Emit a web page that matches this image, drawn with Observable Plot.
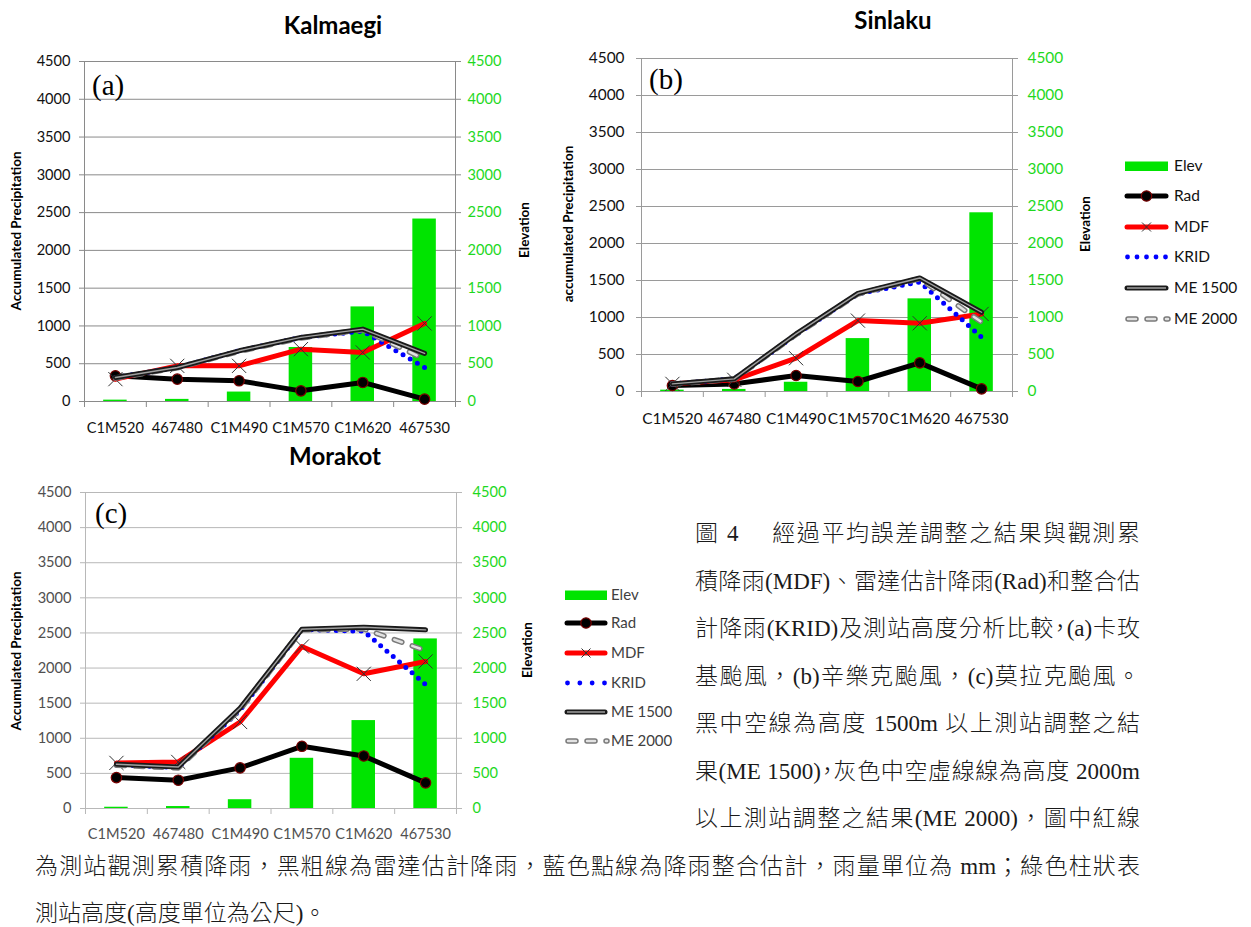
<!DOCTYPE html>
<html lang="zh-Hant">
<head>
<meta charset="utf-8">
<script src="https://cdn.jsdelivr.net/npm/d3@7"></script>
<script src="https://cdn.jsdelivr.net/npm/@observablehq/plot@0.6"></script>
<style>
  html, body { margin: 0; padding: 0; background: #fff; }
  #page { position: relative; width: 1251px; height: 927px; overflow: hidden; background: #fff; font-family: Lato, "Open Sans", sans-serif; }
  .ttl { position: absolute; transform: translate(-50%, -50%); font: bold 24px Lato, sans-serif; line-height: 1; white-space: nowrap; color: #000; }
  .vt { position: absolute; transform: translate(-50%, -50%) rotate(-90deg); font: bold 13.5px Lato, sans-serif; line-height: 1; white-space: nowrap; color: #000; }
  .tag { position: absolute; font: 29px "Liberation Serif", serif; line-height: 1; transform: translateY(-50%); color: #000; }
  .cap { position: absolute; font-family: "Liberation Serif", "Noto Sans CJK TC", serif; font-weight: 300; font-size: 23px; line-height: 1; white-space: nowrap; text-align: justify; text-align-last: justify; color: #1a1a1a; transform: translateY(-50%); }
  .halt { font-feature-settings: "halt"; }
</style>
</head>
<body>
<div id="page"></div>
<script>
// ---------------- data ----------------
const stations = ["C1M520", "467480", "C1M490", "C1M570", "C1M620", "467530"];
const elevation = [18, 28, 125, 715, 1252, 2415];
const yTicks = [0, 500, 1000, 1500, 2000, 2500, 3000, 3500, 4000, 4500];

// (a) Kalmaegi
const kalRad    = [340, 296, 274, 141, 252, 31];
const kalMDF    = [296, 472, 472, 693, 649, 1033];
const kalKRID   = [318, 450, 671, 848, 930, 450];
const kalME1500 = [318, 450, 671, 848, 958, 636];
const kalME2000 = [310, 445, 665, 840, 950, 561];

// (b) Sinlaku
const sinRad    = [81, 103, 216, 135, 387, 36];
const sinMDF    = [103, 158, 450, 958, 922, 1048];
const sinKRID   = [103, 171, 770, 1320, 1480, 734];
const sinME1500 = [103, 171, 778, 1327, 1534, 1071];
const sinME2000 = [100, 168, 770, 1318, 1525, 936];

// (c) Morakot
const morRad    = [440, 403, 578, 886, 748, 365];
const morMDF    = [649, 663, 1232, 2307, 1918, 2094];
const morKRID   = [620, 585, 1400, 2550, 2525, 1767];
const morME1500 = [630, 592, 1430, 2553, 2582, 2544];
const morME2000 = [616, 578, 1410, 2544, 2558, 2250];

const legendNames = ["Elev", "Rad", "MDF", "KRID", "ME 1500", "ME 2000"];

// ---------------- styles ----------------
const GREEN = "#00e400";
const GREEN_TXT = "#1ed81e";

const page = document.getElementById("page");

function rowsOf(rad, mdf, krid, me1500, me2000) {
  return stations.map((s, i) => ({i, s, elev: elevation[i], rad: rad[i], mdf: mdf[i], krid: krid[i], me1500: me1500[i], me2000: me2000[i]}));
}

function makeChart(cfg) {
  const rows = rowsOf(...cfg.series);
  const cx = d => d.i + 0.5;
  const p = Plot.plot({
    width: cfg.width, height: cfg.height,
    marginLeft: cfg.ml, marginRight: cfg.mr, marginTop: cfg.mt, marginBottom: cfg.mb,
    x: {domain: [0, 6], axis: null},
    y: {domain: [0, 4500], axis: null},
    style: {fontFamily: "Lato, sans-serif", fontSize: cfg.fs + "px", background: "transparent", overflow: "visible"},
    marks: [
      Plot.ruleY(yTicks.slice(1), {stroke: cfg.grid, strokeWidth: 1}),
      Plot.axisY({anchor: "left", ticks: yTicks, tickSize: 5, tickPadding: cfg.lpad, tickFormat: d => String(d), stroke: cfg.grid, fill: cfg.txt, fontSize: cfg.fs, label: null}),
      Plot.axisY({anchor: "right", ticks: yTicks, tickSize: 5, tickPadding: cfg.rpad, tickFormat: d => String(d), stroke: cfg.grid, fill: GREEN_TXT, fontSize: cfg.fs, label: null}),
      Plot.ruleX([0, 6], {stroke: cfg.grid, strokeWidth: 1}),
      Plot.ruleY([0], {stroke: cfg.grid, strokeWidth: 1}),
      Plot.axisX({ticks: d3.range(0, 7), tickSize: 6, tickFormat: () => "", stroke: cfg.grid, label: null}),
      Plot.axisX({ticks: d3.range(6).map(i => i + 0.5), tickSize: 0, tickPadding: cfg.xpad, tickFormat: d => stations[Math.floor(d)], fill: cfg.txt, fontSize: cfg.xfs, label: null}),
      Plot.rect(rows, {x1: d => d.i + 0.31, x2: d => d.i + 0.69, y1: d => 0, y2: "elev", fill: GREEN}),
      Plot.line(rows, {x: cx, y: "rad", stroke: "#000", strokeWidth: 5, strokeLinejoin: "round"}),
      Plot.dot(rows, {x: cx, y: "rad", r: 5.2, fill: "#000", stroke: "#7a0000", strokeWidth: 1.2}),
      Plot.line(rows, {x: cx, y: "mdf", stroke: "#ff0000", strokeWidth: 5, strokeLinejoin: "round"}),
      Plot.dot(rows, {x: cx, y: "mdf", symbol: "times", r: 6.5, stroke: "#333", strokeWidth: 1}),
      Plot.line(rows, {x: cx, y: "krid", stroke: "#0000ff", strokeWidth: 5, strokeDasharray: "0 8.3", strokeLinecap: "round"}),
      Plot.line(rows, {x: cx, y: "me2000", stroke: "#7a7a7a", strokeWidth: 5.5, strokeDasharray: "8 11", strokeLinecap: "round"}),
      Plot.line(rows, {x: cx, y: "me2000", stroke: "#e2e2e2", strokeWidth: 2.5, strokeDasharray: "8 11", strokeLinecap: "round"}),
      Plot.line(rows, {x: cx, y: "me1500", stroke: "#1a1a1a", strokeWidth: 5, strokeLinejoin: "round"}),
      Plot.line(rows, {x: cx, y: "me1500", stroke: "#a0a0a0", strokeWidth: 1.4, strokeLinejoin: "round"})
    ]
  });
  p.style.position = "absolute";
  p.style.left = cfg.left + "px";
  p.style.top = cfg.top + "px";
  page.appendChild(p);
}

function addDiv(cls, text, x, y, extra) {
  const d = document.createElement("div");
  d.className = cls;
  d.textContent = text;
  d.style.left = x + "px";
  d.style.top = y + "px";
  if (extra) Object.assign(d.style, extra);
  page.appendChild(d);
  return d;
}

function makeLegend(cfg) {
  const svg = d3.create("svg").attr("width", 140).attr("height", 190)
    .style("position", "absolute").style("left", cfg.left + "px").style("top", cfg.top + "px").style("overflow", "visible");
  const x0 = 0, x1 = cfg.sw;
  const xm = (x0 + x1) / 2;
  legendNames.forEach((name, k) => {
    const y = cfg.ys[k];
    const g = svg.append("g");
    if (name === "Elev") {
      g.append("rect").attr("x", x0).attr("y", y - 4.5).attr("width", cfg.sw).attr("height", 9.5).attr("fill", GREEN);
    } else if (name === "Rad") {
      g.append("line").attr("x1", x0 + 2).attr("x2", x1 - 2).attr("y1", y).attr("y2", y).attr("stroke", "#000").attr("stroke-width", 5).attr("stroke-linecap", "round");
      g.append("circle").attr("cx", xm).attr("cy", y).attr("r", 5.2).attr("fill", "#000").attr("stroke", "#7a0000").attr("stroke-width", 1.2);
    } else if (name === "MDF") {
      g.append("line").attr("x1", x0 + 2).attr("x2", x1 - 2).attr("y1", y).attr("y2", y).attr("stroke", "#ff0000").attr("stroke-width", 5).attr("stroke-linecap", "round");
      g.append("path").attr("d", `M${xm-4.5},${y-4.5}L${xm+4.5},${y+4.5}M${xm-4.5},${y+4.5}L${xm+4.5},${y-4.5}`).attr("stroke", "#333").attr("stroke-width", 1);
    } else if (name === "KRID") {
      const n = cfg.ndots;
      for (let j = 0; j < n; j++) {
        g.append("circle").attr("cx", x0 + 2.5 + j * (cfg.sw - 5) / (n - 1)).attr("cy", y).attr("r", 2.4).attr("fill", "#0000ff");
      }
    } else if (name === "ME 1500") {
      g.append("line").attr("x1", x0 + 2).attr("x2", x1 - 2).attr("y1", y).attr("y2", y).attr("stroke", "#1a1a1a").attr("stroke-width", 5).attr("stroke-linecap", "round");
      g.append("line").attr("x1", x0 + 2).attr("x2", x1 - 2).attr("y1", y).attr("y2", y).attr("stroke", "#a0a0a0").attr("stroke-width", 1.4);
    } else {
      g.append("line").attr("x1", x0 + 3).attr("x2", x1).attr("y1", y).attr("y2", y).attr("stroke", "#7a7a7a").attr("stroke-width", 5.5).attr("stroke-dasharray", "8 11").attr("stroke-linecap", "round");
      g.append("line").attr("x1", x0 + 3).attr("x2", x1).attr("y1", y).attr("y2", y).attr("stroke", "#e2e2e2").attr("stroke-width", 2.5).attr("stroke-dasharray", "8 11").attr("stroke-linecap", "round");
    }
    g.append("text").attr("x", cfg.tx).attr("y", y).attr("dy", "0.35em")
      .attr("font-family", "Lato, sans-serif").attr("font-size", cfg.fs).attr("fill", cfg.color).text(name);
  });
  page.appendChild(svg.node());
}

// ---------------- charts ----------------
makeChart({left: 0, top: 0, width: 560, height: 445, ml: 84, mr: 105, mt: 61, mb: 44,
  fs: 14.6, xfs: 14.6, lpad: 9, rpad: 7, xpad: 21, grid: "#8a8a8a", txt: "#111",
  series: [kalRad, kalMDF, kalKRID, kalME1500, kalME2000]});
makeChart({left: 560, top: 0, width: 520, height: 440, ml: 81, mr: 68, mt: 58, mb: 49,
  fs: 15.4, xfs: 15.4, lpad: 12, rpad: 10, xpad: 21.5, grid: "#9a9a9a", txt: "#111",
  series: [sinRad, sinMDF, sinKRID, sinME1500, sinME2000]});
makeChart({left: 0, top: 440, width: 560, height: 420, ml: 85, mr: 104, mt: 52, mb: 52,
  fs: 14.6, xfs: 14.6, lpad: 9, rpad: 11, xpad: 20, grid: "#b8b8b8", txt: "#505050",
  series: [morRad, morMDF, morKRID, morME1500, morME2000]});

// titles
addDiv("ttl", "Kalmaegi", 333, 25);
addDiv("ttl", "Sinlaku", 893, 20);
addDiv("ttl", "Morakot", 335, 456);

// panel tags
addDiv("tag", "(a)", 92, 85);
addDiv("tag", "(b)", 649, 79);
addDiv("tag", "(c)", 95, 513);

// axis titles
addDiv("vt", "Accumulated Precipitation", 17, 231);
addDiv("vt", "Elevation", 525, 230);
addDiv("vt", "accumulated Precipitation", 569, 224);
addDiv("vt", "Elevation", 1086, 224);
addDiv("vt", "Accumulated Precipitation", 17, 651);
addDiv("vt", "Elevation", 528, 650);

// legends
makeLegend({left: 1125, top: 0, sw: 43, tx: 49, ys: [166, 196, 227, 257, 288, 319], fs: 15.5, color: "#111", ndots: 5});
makeLegend({left: 565, top: 0, sw: 42, tx: 46, ys: [595, 623, 653, 683, 712, 741], fs: 15, color: "#404040", ndots: 4});

// ---------------- caption ----------------
const capRight = [
  "圖 4　 經過平均誤差調整之結果與觀測累",
  "積降雨(MDF)、雷達估計降雨(Rad)和整合估",
  "計降雨(KRID)及測站高度分析比較<span class='halt'>，</span>(a)卡玫",
  "基颱風，(b)辛樂克颱風，(c)莫拉克颱風。",
  "黑中空線為高度 1500m 以上測站調整之結",
  "果(ME 1500)<span class='halt'>，</span>灰色中空虛線線為高度 2000m",
  "以上測站調整之結果(ME 2000)，圖中紅線"
];
const capRightY = [533, 581, 628, 676, 723, 771, 818];
capRight.forEach((t, k) => {
  const d = addDiv("cap", "", 695, capRightY[k], {width: "445px"});
  d.innerHTML = t;
});
addDiv("cap", "為測站觀測累積降雨，黑粗線為雷達估計降雨，藍色點線為降雨整合估計，雨量單位為 mm；綠色柱狀表", 35, 866, {width: "1105px"});
addDiv("cap", "測站高度(高度單位為公尺)。", 35, 913, {textAlign: "left", textAlignLast: "left"});
</script>
</body>
</html>
